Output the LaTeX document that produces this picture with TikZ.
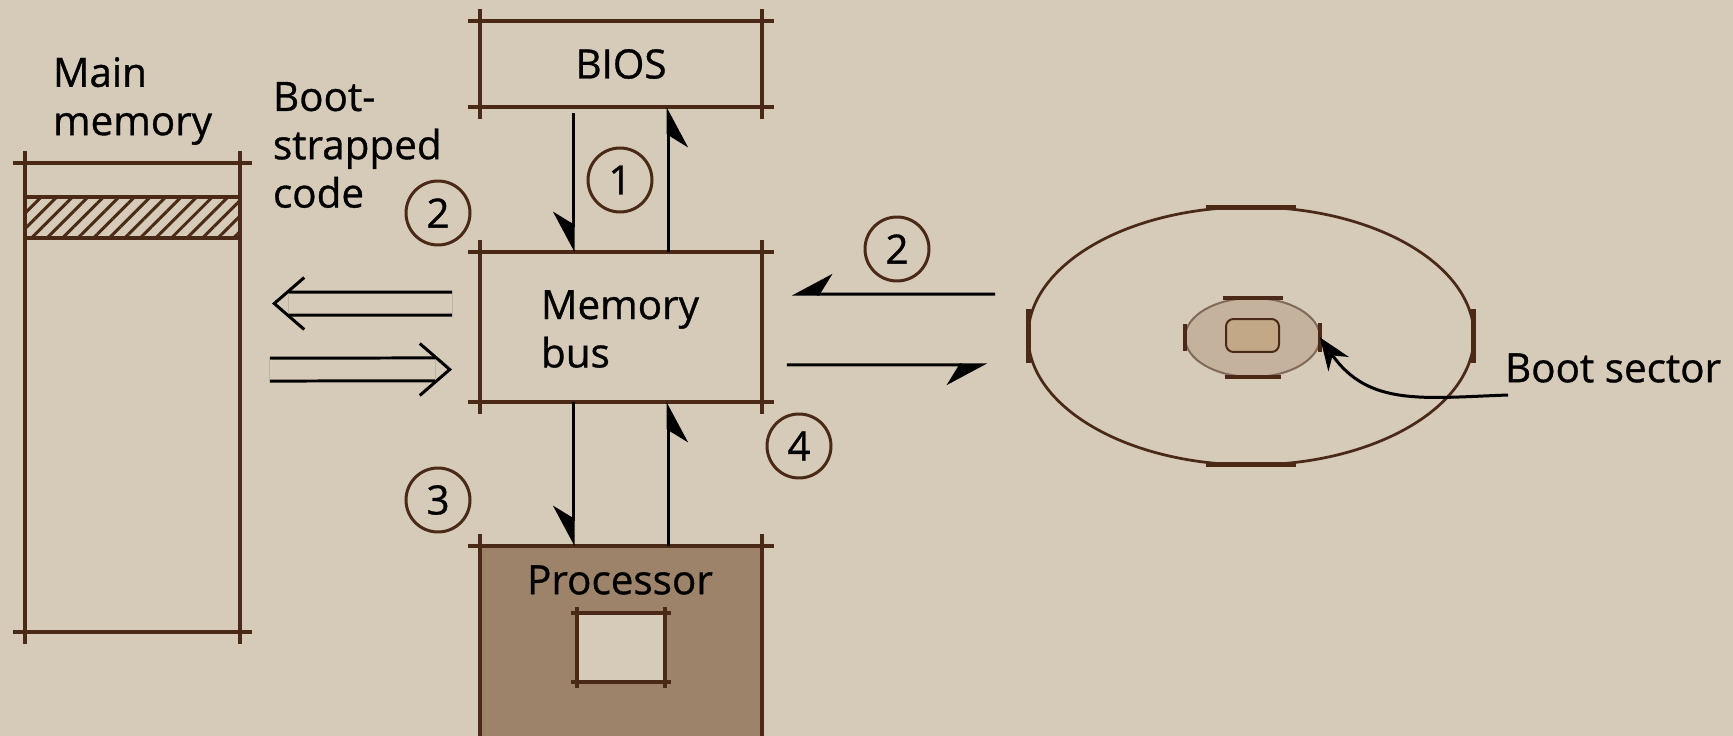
\documentclass[tikz,border=0pt]{standalone}
\usepackage{fontspec}
\setmainfont{Open Sans}[UprightFeatures={FakeBold=0.8}]
\usetikzlibrary{positioning, calc, arrows.meta, shapes.geometric, patterns.meta}

\definecolor{paper}{HTML}{D6CAB9}
\definecolor{ink}{HTML}{4A2A16}
\definecolor{procfill}{HTML}{9C836A}
\definecolor{hubfill}{HTML}{C5B29D}
\definecolor{hubcore}{HTML}{C2A886}

% sketchy box: edges run a little past the corners
\newcommand{\sketchbox}[2][12]{%
  \draw[boxline] ($(#2.north west)+(-#1,0)$) -- ($(#2.north east)+(#1,0)$)
                 ($(#2.south west)+(-#1,0)$) -- ($(#2.south east)+(#1,0)$)
                 ($(#2.north west)+(0,-#1)$) -- ($(#2.south west)+(0,#1)$)
                 ($(#2.north east)+(0,-#1)$) -- ($(#2.south east)+(0,#1)$);}

\begin{document}
\begin{tikzpicture}[x=0.02cm, y=-0.02cm, font=\fontsize{23}{27.5}\selectfont,
    box/.style={inner sep=0pt, outer sep=0pt},
    txt/.style={inner sep=0pt, outer sep=0pt, align=left},
    boxline/.style={draw=ink, line width=0.075cm},
    sketchtick/.style={draw=ink, line width=0.1cm},
    arr/.style={line width=0.06cm, -{Stealth[harpoon, swap, length=0.75cm, width=0.8cm]}},
    dbltip/.style={draw=paper, line width=0.06cm,
                   -{Straight Barb[color=black, line width=0.06cm, length=0.6cm, width=1.04cm]}},
    dblshaft/.style={draw=black, double=paper, double distance=0.4cm, line width=0.06cm},
    curvarr/.style={line width=0.06cm, -{Stealth[length=0.65cm, width=0.5cm]}},
    num/.style={circle, draw=ink, line width=0.06cm, minimum size=1.28cm, inner sep=0pt, outer sep=0pt}]

    % --- Paper ---
    \path[use as bounding box, clip] (0,0) rectangle (1733,736);
    \fill[paper] (0,0) rectangle (1733,736);

    % --- Main memory ---
    \node[box, minimum width=4.3cm, minimum height=9.38cm] (mem) at (132.5,397.5) {};
    \node[box, minimum width=4.3cm, minimum height=0.82cm,
          pattern={Lines[angle=45, distance=0.22cm, line width=0.06cm]}, pattern color=ink] (code) at (132.5,217.5) {};
    \sketchbox{mem}
    \draw[boxline] (code.north west) -- (code.north east) (code.south west) -- (code.south east);
    \node[txt, anchor=west] (memlbl) at (53,101) {Main\\memory};
    \node[txt, anchor=west] (codelbl) at (273,145) {Boot-\\strapped\\code};

    % --- BIOS ---
    \node[box, minimum width=5.64cm, minimum height=1.72cm] (bios) at (621,64) {BIOS};
    \sketchbox{bios}

    % --- Memory bus ---
    \node[box, minimum width=5.64cm, minimum height=3cm] (bus) at (621,327) {};
    \sketchbox{bus}
    \node[txt, anchor=west] (buslbl) at (541,329) {Memory\\bus};

    % --- Processor ---
    \node[box, fill=procfill, minimum width=5.64cm, minimum height=4.4cm, anchor=north] (proc) at (621,546) {};
    \sketchbox{proc}
    \node[txt] (proclbl) at (620,580) {Processor};
    \node[box, fill=paper, minimum width=1.76cm, minimum height=1.38cm] (chip) at (621,647.5) {};
    \sketchbox[6]{chip}

    % --- Disk ---
    \node[ellipse, draw=ink, line width=0.055cm, minimum width=8.92cm, minimum height=5.16cm, inner sep=0pt, outer sep=0pt] (disk) at (1251,336) {};
    \node[ellipse, draw=ink!70, fill=hubfill, line width=0.04cm, minimum width=2.7cm, minimum height=1.58cm, inner sep=0pt, outer sep=0pt] (hub) at (1252.5,337.5) {};
    \node[rounded corners=0.15cm, draw=ink, fill=hubcore, line width=0.04cm, minimum width=1.06cm, minimum height=0.66cm, inner sep=0pt] (core) at (1252.5,335.5) {};
    \draw[sketchtick] ($(disk.north)+(-45,0)$) -- ++(90,0)  ($(disk.south)+(-45,0)$) -- ++(90,0)
                      ($(disk.west)+(0,-27)$) -- ++(0,54)   ($(disk.east)+(0,-27)$) -- ++(0,54);
    \draw[sketchtick, line width=0.07cm] ($(hub.north)+(-30,0)$) -- ++(60,0)   ($(hub.south)+(-28,0)$) -- ++(56,0)
                      ($(hub.west)+(0,-13)$) -- ++(0,26)    ($(hub.east)+(0,-14)$) -- ++(0,28);
    \node[txt, anchor=west] (bootlbl) at (1505,368) {Boot sector};

    % --- Step numbers ---
    \node[num] (n1) at (620,180) {1};
    \node[num] (n2a) at (438,213) {2};
    \node[num] (n2b) at (897,249) {2};
    \node[num] (n3) at (438,500) {3};
    \node[num] (n4) at (799,446) {4};

    % --- Bus arrows ---
    \draw[arr, shorten <=0.12cm] ([xshift=-0.96cm]bios.south) -- ([xshift=-0.96cm]bus.north);
    \draw[arr] ([xshift=0.94cm]bus.north) -- ([xshift=0.94cm]bios.south);
    \draw[arr] ([xshift=-0.96cm]bus.south) -- ([xshift=-0.96cm]proc.north);
    \draw[arr] ([xshift=0.94cm]proc.north) -- ([xshift=0.94cm]bus.south);

    \draw[arr, shorten <=0.66cm, shorten >=0.6cm] ([yshift=0.84cm]disk.west) -- ([yshift=0.66cm]bus.east);
    \draw[arr, shorten <=0.5cm, shorten >=0.82cm] ([yshift=-0.76cm]bus.east) -- ([yshift=-0.58cm]disk.west);

    % double arrows: chevron first, then the two rails stopping at it
    \draw[dbltip, shorten <=0.56cm, shorten >=0.64cm] ([yshift=0.47cm]bus.west) -- ([yshift=1.88cm]mem.east);
    \draw[dblshaft, shorten <=0.56cm, shorten >=0.98cm] ([yshift=0.47cm]bus.west) -- ([yshift=1.88cm]mem.east);
    \draw[dbltip, shorten <=0.6cm, shorten >=0.56cm] ([yshift=0.56cm]mem.east) -- ([yshift=-0.85cm]bus.west);
    \draw[dblshaft, shorten <=0.6cm, shorten >=0.9cm] ([yshift=0.56cm]mem.east) -- ([yshift=-0.85cm]bus.west);

    \draw[curvarr] ([shift={(3,27)}]bootlbl.west) to[out=182, in=-55, looseness=1.1] (hub.east);

\end{tikzpicture}
\end{document}
